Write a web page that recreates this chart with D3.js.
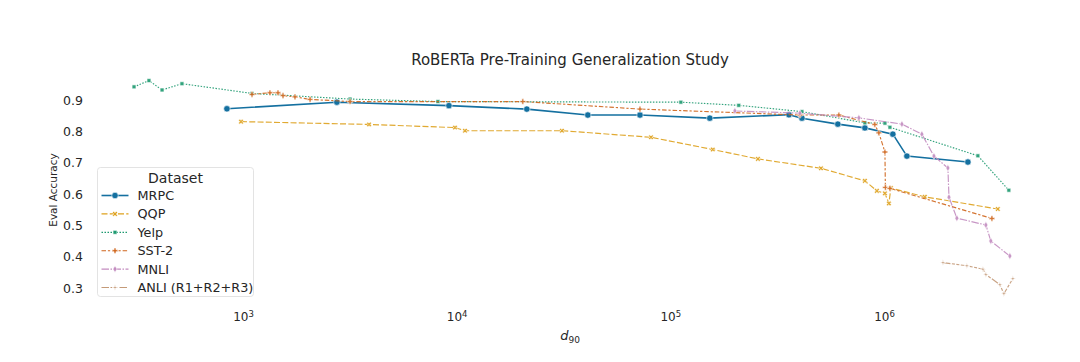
<!DOCTYPE html>
<html>
<head>
<meta charset="utf-8">
<script src="https://cdn.jsdelivr.net/npm/d3@7.9.0/dist/d3.min.js"></script>
<style>
  body { margin: 0; background: #fff; }
  svg { font-family: "DejaVu Sans", sans-serif; }
</style>
</head>
<body>
<svg id="chart" width="1080" height="362"></svg>
<script>
// values: [d90, eval accuracy]
const mrpc = [
  [841, 0.872], [2750, 0.893], [9200, 0.882], [21300, 0.871], [41100, 0.852],
  [72100, 0.852], [153000, 0.842], [359000, 0.853], [413000, 0.842],
  [608000, 0.823], [814000, 0.811], [1100000, 0.791], [1280000, 0.721],
  [2470000, 0.702],
];
const qqp = [
  [979, 0.831], [3890, 0.822], [9820, 0.812], [10940, 0.802], [31100, 0.802],
  [81200, 0.781], [158000, 0.742], [257000, 0.712], [507000, 0.682],
  [814000, 0.642], [926000, 0.610], [1010000, 0.602], [1054000, 0.570],
  [1077000, 0.619], [1553000, 0.591], [3410000, 0.552],
];
const yelp = [
  [309, 0.942], [363, 0.962], [418, 0.932], [518, 0.952], [1102, 0.921],
  [3170, 0.903], [8170, 0.895], [112000, 0.893], [209000, 0.883],
  [413000, 0.863], [814000, 0.827], [1010000, 0.826], [1066000, 0.813],
  [2750000, 0.722], [3840000, 0.612],
];
const sst2 = [
  [1102, 0.918], [1337, 0.923], [1458, 0.923], [1539, 0.914], [1751, 0.910],
  [2060, 0.902], [3170, 0.895], [20400, 0.895], [72100, 0.871],
  [404000, 0.852], [615000, 0.852], [906000, 0.822], [946000, 0.795],
  [1010000, 0.734], [1015000, 0.621], [1066000, 0.618], [3200000, 0.522],
];
const mnli = [
  [200500, 0.865], [404000, 0.858], [763000, 0.843], [1213000, 0.823],
  [1504000, 0.791], [1713000, 0.721], [1991000, 0.683], [2014000, 0.590],
  [2193000, 0.523], [2998000, 0.501], [3162000, 0.450], [3882000, 0.402],
];
const anli = [
  [1888000, 0.381], [2443000, 0.371], [2904000, 0.360], [2998000, 0.343],
  [3484000, 0.311], [3640000, 0.282], [4010000, 0.330],
];

const datasetNames = ["MRPC", "QQP", "Yelp", "SST-2", "MNLI", "ANLI (R1+R2+R3)"];
const datasetValues = [mrpc, qqp, yelp, sst2, mnli, anli];
const xTicks = [1e3, 1e4, 1e5, 1e6];
const yTicks = [0.3, 0.4, 0.5, 0.6, 0.7, 0.8, 0.9];

const colors = ["#1470a0", "#dea11c", "#1e9a70", "#d0661c", "#c38cc0", "#c49a78"];
const dashes = ["", "6,2.25", "1.5,1.5", "4.5,1.9,2.25,1.9", "7.5,1.5,1.5,1.5", "7.5,1.5,3,1.5,3,1.5"];

function markerPath(i, r) {
  if (i === 0) return d3.symbol(d3.symbolCircle, Math.PI * r * r)();
  if (i === 1) return d3.symbol(d3.symbolCross, r * r * 2.6)();     // rotated -> X
  if (i === 2) return d3.symbol(d3.symbolSquare, r * r * 2.4)();
  if (i === 3) return d3.symbol(d3.symbolCross, r * r * 2.8)();     // filled plus
  if (i === 4) return d3.symbol(d3.symbolDiamond, r * r * 2.2)();
  // 4-point star
  const pts = [];
  for (let k = 0; k < 8; k++) {
    const a = (k * Math.PI) / 4 - Math.PI / 2;
    const rr = k % 2 === 0 ? r * 1.2 : r * 0.35;
    pts.push([rr * Math.cos(a), rr * Math.sin(a)]);
  }
  return "M" + pts.map((p) => p.join(",")).join("L") + "Z";
}

const svg = d3.select("#chart");
const x = d3.scaleLog().domain([1e3, 1e6]).range([243, 884]);
const y = d3.scaleLinear().domain([0.3, 0.9]).range([288, 100]);

svg.append("text")
  .attr("x", 570).attr("y", 65)
  .attr("text-anchor", "middle")
  .attr("font-size", 15).attr("fill", "#262626")
  .text("RoBERTa Pre-Training Generalization Study");

// y axis
const yAxis = svg.append("g")
  .attr("transform", "translate(90,0)")
  .call(d3.axisLeft(y).tickValues(yTicks).tickSize(0).tickPadding(7).tickFormat(d3.format(".1f")));
yAxis.select(".domain").remove();
yAxis.selectAll("text").attr("font-size", 12.5).attr("fill", "#262626").attr("font-family", "DejaVu Sans");

svg.append("text")
  .attr("transform", "translate(57,190) rotate(-90)")
  .attr("text-anchor", "middle")
  .attr("font-size", 10.5).attr("fill", "#262626")
  .text("Eval Accuracy");

// x axis
const xAxis = svg.append("g")
  .attr("transform", "translate(0,303)")
  .call(d3.axisBottom(x).tickValues(xTicks).tickSize(0).tickPadding(9).tickFormat(() => ""));
xAxis.select(".domain").remove();
xAxis.selectAll(".tick text").each(function (d) {
  const t = d3.select(this)
    .attr("font-size", 12).attr("fill", "#262626").attr("font-family", "DejaVu Sans");
  t.append("tspan").text("10");
  t.append("tspan").attr("dy", "-0.45em").attr("font-size", 8.5).text(Math.round(Math.log10(d)));
});

const xLabel = svg.append("text")
  .attr("x", 570).attr("y", 340)
  .attr("text-anchor", "middle")
  .attr("font-size", 13).attr("fill", "#262626");
xLabel.append("tspan").attr("font-style", "italic").text("d");
xLabel.append("tspan").attr("font-size", 9).attr("dy", "0.3em").text("90");

// lines + markers
const line = d3.line().x((d) => x(d[0])).y((d) => y(d[1]));

datasetValues.forEach((vals, i) => {
  const g = svg.append("g").attr("opacity", i === 0 ? 1 : 0.9);
  g.append("path")
    .datum(vals)
    .attr("d", line)
    .attr("fill", "none")
    .attr("stroke", colors[i])
    .attr("stroke-width", i === 0 ? 1.6 : 1.15)
    .attr("stroke-dasharray", dashes[i] || null);
  g.selectAll("path.m")
    .data(vals)
    .join("path")
    .attr("class", "m")
    .attr("d", markerPath(i, i === 0 ? 3.2 : 2.5))
    .attr("transform", (d) => `translate(${x(d[0])},${y(d[1])})${i === 1 ? " rotate(45)" : ""}`)
    .attr("fill", colors[i])
    .attr("stroke", "#fff")
    .attr("stroke-width", 0.6);
});

// legend
const legend = svg.append("g").attr("transform", "translate(97.5,167.5)");
legend.append("rect")
  .attr("width", 156).attr("height", 129).attr("rx", 3)
  .attr("fill", "#fff").attr("fill-opacity", 0.85)
  .attr("stroke", "#dcdcdc").attr("stroke-width", 0.8);
legend.append("text")
  .attr("x", 78).attr("y", 15)
  .attr("text-anchor", "middle")
  .attr("font-size", 14).attr("fill", "#262626")
  .text("Dataset");

const rows = legend.selectAll("g.row")
  .data(datasetNames)
  .join("g")
  .attr("class", "row")
  .attr("transform", (d, i) => `translate(0,${28 + i * 18.4})`);
rows.append("line")
  .attr("x1", 4).attr("x2", 31)
  .attr("stroke", (d, i) => colors[i])
  .attr("stroke-width", (d, i) => (i === 0 ? 1.6 : 1.15))
  .attr("stroke-dasharray", (d, i) => dashes[i] || null);
rows.append("path")
  .attr("d", (d, i) => markerPath(i, i === 0 ? 3.2 : 2.5))
  .attr("transform", (d, i) => `translate(17.5,0)${i === 1 ? " rotate(45)" : ""}`)
  .attr("fill", (d, i) => colors[i])
  .attr("stroke", "#fff").attr("stroke-width", 0.6);
rows.append("text")
  .attr("x", 40).attr("y", 0).attr("dy", "0.35em")
  .attr("font-size", 12.8).attr("fill", "#262626")
  .text((d) => d);
</script>
</body>
</html>
